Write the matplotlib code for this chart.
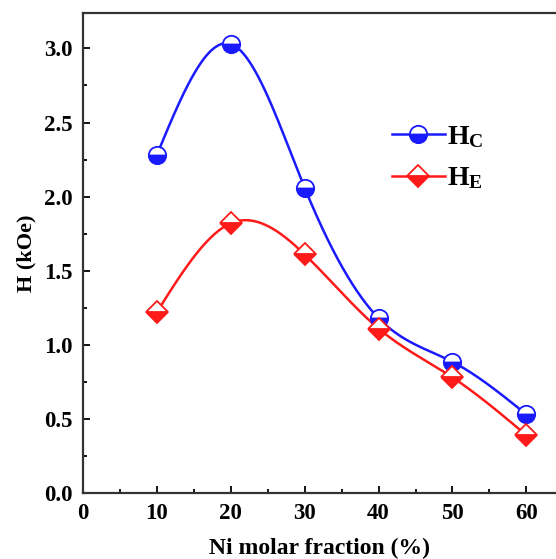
import numpy as np
import matplotlib
matplotlib.use('Agg')
import matplotlib.pyplot as plt

# data
ni_frac = [10, 20, 30, 40, 50, 60]
hc = [2.28, 3.03, 2.06, 1.18, 0.885, 0.53]
he = [1.22, 1.82, 1.61, 1.11, 0.78, 0.39]


# natural cubic spline for the smooth connecting line
def spline(x, y, n=300):
    x = np.asarray(x, float)
    y = np.asarray(y, float)
    k = len(x)
    h = np.diff(x)
    A = np.zeros((k, k))
    b = np.zeros(k)
    A[0, 0] = A[-1, -1] = 1
    for i in range(1, k - 1):
        A[i, i - 1] = h[i - 1]
        A[i, i] = 2 * (h[i - 1] + h[i])
        A[i, i + 1] = h[i]
        b[i] = 6 * ((y[i + 1] - y[i]) / h[i] - (y[i] - y[i - 1]) / h[i - 1])
    M = np.linalg.solve(A, b)
    xs = np.linspace(x[0], x[-1], n)
    ys = np.empty_like(xs)
    for j, t in enumerate(xs):
        i = min(np.searchsorted(x, t, side='right') - 1, k - 2)
        a, c = x[i], x[i + 1]
        ys[j] = (M[i] * (c - t) ** 3 / (6 * h[i]) + M[i + 1] * (t - a) ** 3 / (6 * h[i])
                 + (y[i] / h[i] - M[i] * h[i] / 6) * (c - t)
                 + (y[i + 1] / h[i] - M[i + 1] * h[i] / 6) * (t - a))
    return xs, ys


plt.rcParams['font.family'] = ['Liberation Serif', 'DejaVu Serif']
plt.rcParams['font.weight'] = 'bold'
plt.rcParams['mathtext.fontset'] = 'custom'
plt.rcParams['mathtext.rm'] = 'Liberation Serif:bold'
plt.rcParams['mathtext.bf'] = 'Liberation Serif:bold'

fig = plt.figure(figsize=(5.56, 5.59), dpi=100)
ax = fig.add_axes([0.149, 0.118, 0.851, 0.859])

blue = '#1a1aff'
red = '#ff1a1a'

xs, ys = spline(ni_frac, hc)
ax.plot(xs, ys, color=blue, lw=1.8)
xs, ys = spline(ni_frac, he)
ax.plot(xs, ys, color=red, lw=1.8)

ax.plot(ni_frac, hc, ls='none', marker='o', ms=12.5, color=blue, fillstyle='bottom',
        markerfacecoloralt='white', markeredgecolor=blue, mew=1.3)
ax.plot(ni_frac, he, ls='none', marker='D', ms=11, color=red, fillstyle='bottom',
        markerfacecoloralt='white', markeredgecolor=red, mew=1.3)

# legend handles
h1, = ax.plot([], [], color=blue, lw=1.8, marker='o', ms=12.5, fillstyle='bottom',
              markerfacecoloralt='white', markeredgecolor=blue, mew=1.3)
h2, = ax.plot([], [], color=red, lw=1.8, marker='D', ms=11, fillstyle='bottom',
              markerfacecoloralt='white', markeredgecolor=red, mew=1.3)
leg = ax.legend([h1, h2], [r'$\mathbf{H_C}$', r'$\mathbf{H_E}$'], loc='upper left',
                bbox_to_anchor=(0.6, 0.82), frameon=False, fontsize=20,
                handlelength=1.9, handletextpad=0.1, labelspacing=0.55)

ax.set_xlim(0, 64)
ax.set_ylim(0, 3.24)
ax.set_xticks([0, 10, 20, 30, 40, 50, 60])
ax.set_xticks(np.arange(5, 64, 10), minor=True)
ax.set_yticks(np.arange(0, 3.01, 0.5))
ax.set_yticks(np.arange(0.25, 3.24, 0.5), minor=True)
ax.set_yticklabels(['%.1f' % v for v in np.arange(0, 3.01, 0.5)])
ax.tick_params(which='both', direction='in', top=False, right=False, labelsize=16.5)
ax.tick_params(which='major', length=5, width=1.3, pad=7)
ax.tick_params(which='minor', length=3, width=1.3)
for s in ax.spines.values():
    s.set_linewidth(1.6)
    s.set_color('#333333')
ax.spines['right'].set_visible(False)

ax.set_xlabel('Ni molar fraction (%)', fontsize=17, fontweight='bold', labelpad=10)
ax.set_ylabel('H (kOe)', fontsize=16, fontweight='bold', labelpad=6)

fig.savefig('out.png', dpi=100)
